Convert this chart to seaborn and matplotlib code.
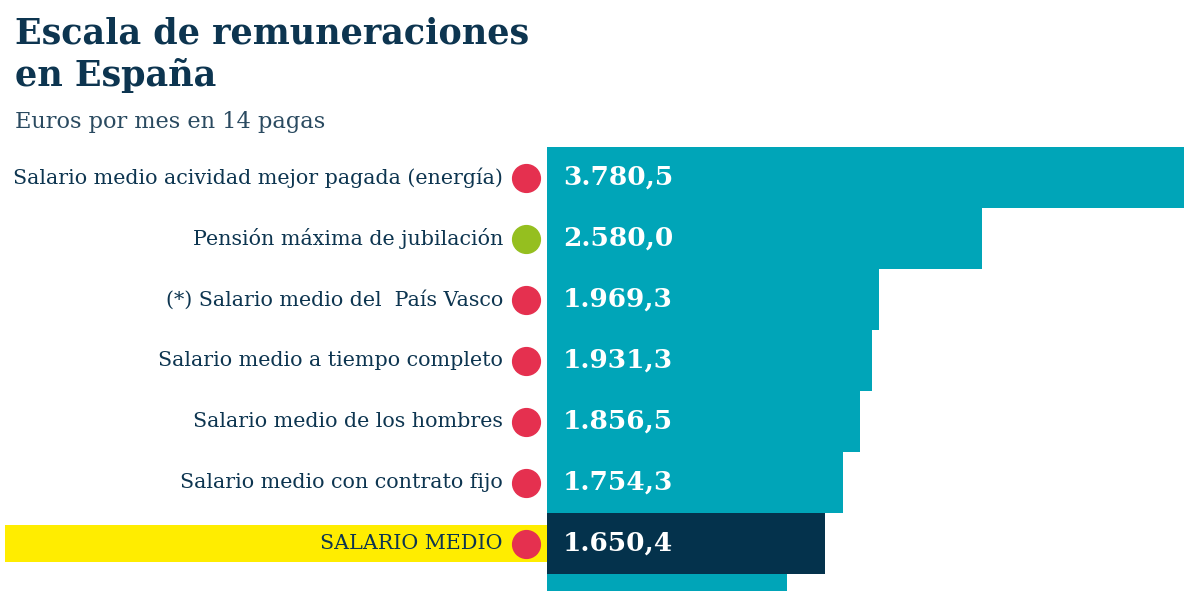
import matplotlib
matplotlib.use("Agg")
import matplotlib.pyplot as plt
import matplotlib.transforms as mtransforms
from matplotlib.patches import Rectangle
import seaborn as sns
import pandas as pd

categories = [
    "Salario medio acividad mejor pagada (energía)",
    "Pensión máxima de jubilación",
    "(*) Salario medio del  País Vasco",
    "Salario medio a tiempo completo",
    "Salario medio de los hombres",
    "Salario medio con contrato fijo",
    "SALARIO MEDIO",
    "Salario medio de las mujeres",
]
values = [3780.5, 2580.0, 1969.3, 1931.3, 1856.5, 1754.3, 1650.4, 1425.0]
dot_kind = ["salario", "pension", "salario", "salario", "salario", "salario", "salario", "salario"]
highlight = "SALARIO MEDIO"

title_lines = ["Escala de remuneraciones", "en España"]
subtitle = "Euros por mes en 14 pagas"

TEAL = "#00a5b8"
DARK = "#04324c"
YELLOW = "#ffed00"
RED = "#e5304f"
GREEN = "#95bf1f"
TEXT = "#0d3550"

df = pd.DataFrame({"cat": categories, "val": values})

sns.set_theme(style="white")
plt.rcParams["font.family"] = ["DejaVu Serif"]

fig = plt.figure(figsize=(12, 5.91), dpi=100)
W, H = 1200, 591
ax = fig.add_axes([547 / W, 0, (1184 - 547) / W, (591 - 147) / H])

palette = {c: (DARK if c == highlight else TEAL) for c in categories}
sns.barplot(data=df, x="val", y="cat", hue="cat", palette=palette, orient="h",
            width=1.0, saturation=1.0, legend=False, ax=ax, edgecolor="none", linewidth=0)

row_px = 61
ymax = -0.5 + (591 - 147) / row_px
ax.set_xlim(0, max(values))
ax.set_ylim(ymax, -0.5)
ax.axis("off")

trans = mtransforms.blended_transform_factory(fig.transFigure, ax.transData)

def fmt(v):
    s = f"{v:,.1f}"
    return s.replace(",", "X").replace(".", ",").replace("X", ".")

for i, (c, v, k) in enumerate(zip(categories, values, dot_kind)):
    if i + 0.25 > ymax:
        continue  # row lies below the visible area
    if c == highlight:
        ax.add_patch(Rectangle((5 / W, i - 0.3), (547 - 5) / W, 0.6, transform=trans,
                               facecolor=YELLOW, edgecolor="none", clip_on=False, zorder=0))
    ax.text(503 / W, i, c, transform=trans, ha="right", va="center", fontsize=14.9,
            color=TEXT, clip_on=False, zorder=3)
    ax.plot([526 / W], [i], transform=trans, marker="o", markersize=20,
            color=(GREEN if k == "pension" else RED), clip_on=False, zorder=3)
    ax.annotate(fmt(v), xy=(0, i), xytext=(11.5, 0), textcoords="offset points",
                ha="left", va="center", fontsize=19, fontweight="bold",
                color="white", zorder=4)

fig.text(15 / W, 1 - 44 / H, title_lines[0], fontsize=25.2, fontweight="bold", color=TEXT,
         ha="left", va="baseline")
fig.text(15 / W, 1 - 86 / H, title_lines[1], fontsize=25.2, fontweight="bold", color=TEXT,
         ha="left", va="baseline")
fig.text(15 / W, 1 - 128 / H, subtitle, fontsize=16.2, color="#2a4a60", ha="left", va="baseline")

fig.savefig("out.png", dpi=100)
